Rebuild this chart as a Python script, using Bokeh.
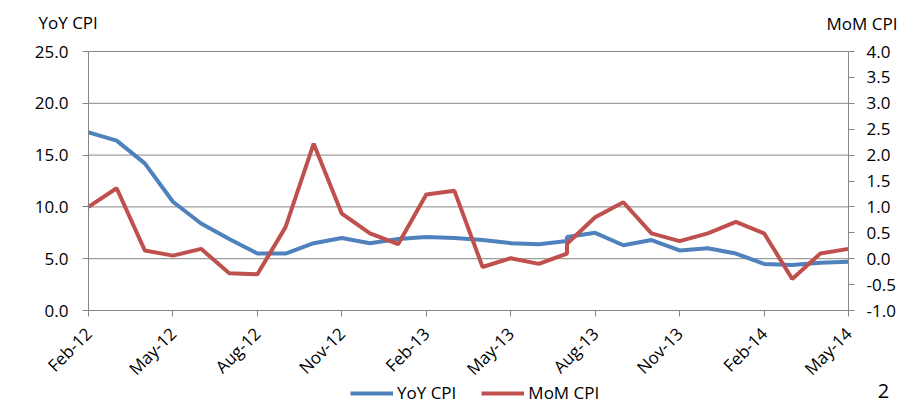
import math
from bokeh.plotting import figure
from bokeh.models import (Range1d, LinearAxis, FixedTicker, NumeralTickFormatter,
                          Legend, LegendItem, Label)
from bokeh.embed import file_html
from bokeh.resources import INLINE

# Month categories (x axis)
months = ["Feb-12", "Mar-12", "Apr-12", "May-12", "Jun-12", "Jul-12", "Aug-12",
          "Sep-12", "Oct-12", "Nov-12", "Dec-12", "Jan-13", "Feb-13", "Mar-13",
          "Apr-13", "May-13", "Jun-13", "Jul-13", "Aug-13", "Sep-13", "Oct-13",
          "Nov-13", "Dec-13", "Jan-14", "Feb-14", "Mar-14", "Apr-14", "May-14"]
# observation months (Jul-13 is reported twice in the source chart)
obs_months = ["Feb-12", "Mar-12", "Apr-12", "May-12", "Jun-12", "Jul-12", "Aug-12",
              "Sep-12", "Oct-12", "Nov-12", "Dec-12", "Jan-13", "Feb-13", "Mar-13",
              "Apr-13", "May-13", "Jun-13", "Jul-13", "Jul-13", "Aug-13", "Sep-13",
              "Oct-13", "Nov-13", "Dec-13", "Jan-14", "Feb-14", "Mar-14", "Apr-14",
              "May-14"]
yoy_cpi = [17.2, 16.4, 14.2, 10.5, 8.4, 6.9, 5.5, 5.5, 6.5, 7.0, 6.5, 6.9, 7.1, 7.0,
           6.8, 6.5, 6.4, 6.7, 7.1, 7.5, 6.3, 6.8, 5.8, 6.0, 5.5, 4.5, 4.4, 4.6, 4.7]
mom_cpi = [1.00, 1.36, 0.16, 0.06, 0.19, -0.28, -0.30, 0.61, 2.22, 0.87, 0.49, 0.28,
           1.24, 1.31, -0.16, 0.01, -0.10, 0.10, 0.29, 0.80, 1.09, 0.49, 0.34, 0.49,
           0.71, 0.49, -0.39, 0.10, 0.19]
x_tick_labels = ["Feb-12", "May-12", "Aug-12", "Nov-12", "Feb-13", "May-13",
                 "Aug-13", "Nov-13", "Feb-14", "May-14"]
yoy_ticks = [0, 5, 10, 15, 20, 25]
mom_ticks = [-1.0, -0.5, 0.0, 0.5, 1.0, 1.5, 2.0, 2.5, 3.0, 3.5, 4.0]
series_names = ["YoY CPI", "MoM CPI"]
page_number = "2"

FONT = "Open Sans"
GRAY = "#868686"
BLUE = "#4F81BD"
RED = "#C0504D"

# canvas and plot-area geometry (pixels)
W, H = 899, 404
PL, PR, PT, PB = 88, 848, 51, 310

x = [months.index(m) for m in obs_months]
tick_idx = [months.index(m) for m in x_tick_labels]
n = len(months) - 1

px_x = (PR - PL) / n
px_l = (PB - PT) / (yoy_ticks[-1] - yoy_ticks[0])
px_r = (PB - PT) / (mom_ticks[-1] - mom_ticks[0])

x_range = Range1d(-PL / px_x, n + (W - PR) / px_x)
y_range = Range1d(yoy_ticks[0] - (H - PB) / px_l, yoy_ticks[-1] + PT / px_l)
mom_range = Range1d(mom_ticks[0] - (H - PB) / px_r, mom_ticks[-1] + PT / px_r)

p = figure(width=W, height=H, output_backend="svg", toolbar_location=None,
           title=None, x_range=x_range, y_range=y_range,
           min_border=0, min_border_left=0, min_border_right=0,
           min_border_top=0, min_border_bottom=0)
p.outline_line_color = None
p.background_fill_color = "white"
p.border_fill_color = "white"
p.xgrid.visible = False
p.ygrid.visible = False
p.extra_y_ranges = {"mom": mom_range}

# x axis, drawn at y = 0
xa = p.xaxis[0]
xa.ticker = FixedTicker(ticks=tick_idx)
xa.major_label_overrides = {i: months[i] for i in tick_idx}
xa.major_label_orientation = math.pi / 4
xa.fixed_location = yoy_ticks[0]
xa.bounds = (0, n)

# left axis
ya = p.yaxis[0]
ya.ticker = FixedTicker(ticks=yoy_ticks)
ya.formatter = NumeralTickFormatter(format="0.0")
ya.fixed_location = 0
ya.bounds = (yoy_ticks[0], yoy_ticks[-1])

# right axis
ra = LinearAxis(y_range_name="mom", ticker=FixedTicker(ticks=mom_ticks),
                formatter=NumeralTickFormatter(format="0.0"))
ra.fixed_location = n
ra.bounds = (mom_ticks[0], mom_ticks[-1])
p.add_layout(ra, "right")

for ax in [xa, ya, ra]:
    ax.axis_line_color = GRAY
    ax.major_tick_line_color = GRAY
    ax.minor_tick_line_color = None
    ax.major_tick_in = 0
    ax.major_tick_out = 6
    ax.major_label_text_font = FONT
    ax.major_label_text_font_size = "17px"
    ax.major_label_text_color = "#000000"
ya.major_label_standoff = 14
ra.major_label_standoff = 12
xa.major_label_standoff = 14

# horizontal gridlines across the plot area
p.segment(x0=0, x1=n, y0=yoy_ticks, y1=yoy_ticks, line_color=GRAY, line_width=1)

r1 = p.line(x, yoy_cpi, line_color=BLUE, line_width=4)
r2 = p.line(x, mom_cpi, line_color=RED, line_width=4, y_range_name="mom")

legend = Legend(items=[LegendItem(label=series_names[0], renderers=[r1]),
                       LegendItem(label=series_names[1], renderers=[r2])],
                orientation="horizontal", location=(350, 0),
                border_line_color=None, background_fill_alpha=0,
                padding=0, margin=0, glyph_width=43, glyph_height=18,
                label_height=18, label_standoff=4, spacing=25,
                label_text_font=FONT, label_text_font_size="17px",
                label_text_color="#000000")
p.add_layout(legend)


def canvas_label(text, cx, cy, size="17px", align="left"):
    """Text placed at canvas pixel (cx, cy), measured from the top-left."""
    return Label(x=cx, y=H - cy, x_units="screen", y_units="screen", text=text,
                 text_align=align, text_baseline="middle", text_font=FONT,
                 text_font_size=size, text_color="#000000")


p.add_layout(canvas_label(series_names[0], 38, 21.5))
p.add_layout(canvas_label(series_names[1], 826, 23))
p.add_layout(canvas_label(page_number, 883, 390, size="20px", align="center"))

open("out.html", "w").write(file_html(p, INLINE))
